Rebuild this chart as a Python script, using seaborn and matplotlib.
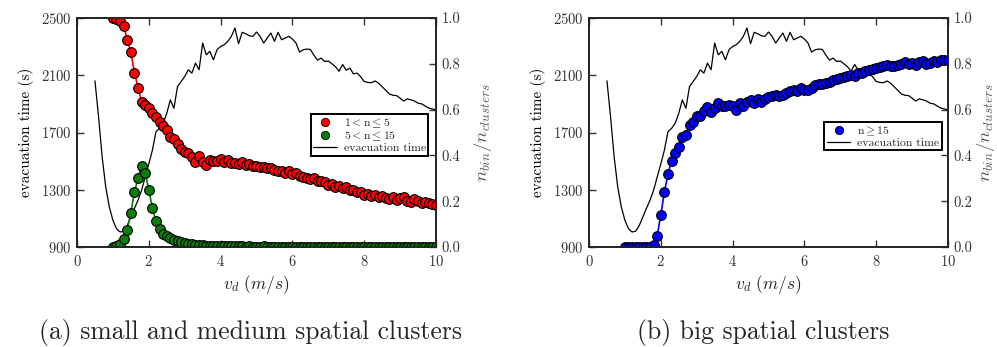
import numpy as np
import pandas as pd
import matplotlib
matplotlib.use("Agg")
import matplotlib.pyplot as plt
import seaborn as sns
from matplotlib.lines import Line2D

# ---------------- data ----------------
vd_bins = np.round(np.linspace(1.0, 10.0, 91), 1)
vd_evac = np.round(np.linspace(0.5, 10.0, 96), 1)

small = [1.00, 0.997, 0.985, 0.966, 0.905, 0.85, 0.762, 0.696, 0.635, 0.62,
         0.606, 0.584, 0.566, 0.545, 0.528, 0.511, 0.479, 0.470, 0.450, 0.430,
         0.416, 0.409, 0.394, 0.372, 0.397, 0.372, 0.359, 0.380, 0.377, 0.375,
         0.385, 0.372, 0.380, 0.365, 0.368, 0.362, 0.370, 0.358, 0.362, 0.355,
         0.352, 0.348, 0.350, 0.345, 0.346, 0.338, 0.332, 0.333, 0.325, 0.330,
         0.318, 0.322, 0.310, 0.305, 0.300, 0.296, 0.300, 0.290, 0.288, 0.282,
         0.272, 0.276, 0.262, 0.265, 0.258, 0.262, 0.250, 0.248, 0.240, 0.238,
         0.228, 0.230, 0.222, 0.226, 0.220, 0.222, 0.216, 0.210, 0.218, 0.205,
         0.213, 0.220, 0.202, 0.196, 0.210, 0.200, 0.193, 0.198, 0.190, 0.188,
         0.182]

medium = [0.0, 0.005, 0.015, 0.035, 0.075, 0.15, 0.24, 0.30, 0.355, 0.325,
          0.25, 0.17, 0.112, 0.077, 0.058, 0.047, 0.040, 0.032, 0.026, 0.021,
          0.017, 0.014, 0.011, 0.009, 0.008, 0.007, 0.006, 0.005, 0.005, 0.004,
          0.004, 0.004, 0.003, 0.003, 0.003, 0.003, 0.003, 0.002, 0.003, 0.002,
          0.002, 0.002, 0.003, 0.002, 0.002, 0.002, 0.002, 0.002, 0.002, 0.002,
          0.002, 0.002, 0.001, 0.002, 0.002, 0.001, 0.002, 0.001, 0.001, 0.002,
          0.001, 0.001, 0.001, 0.001, 0.002, 0.001, 0.001, 0.001, 0.001, 0.001,
          0.001, 0.001, 0.001, 0.001, 0.001, 0.001, 0.001, 0.001, 0.001, 0.001,
          0.001, 0.001, 0.001, 0.001, 0.001, 0.001, 0.001, 0.001, 0.001, 0.001,
          0.001]

big = [0.0, 0.0, 0.0, 0.0, 0.0, 0.0, 0.0, 0.0, 0.007, 0.05,
       0.14, 0.24, 0.32, 0.377, 0.41, 0.435, 0.48, 0.49, 0.533, 0.547,
       0.57, 0.572, 0.596, 0.61, 0.59, 0.606, 0.63, 0.616, 0.616, 0.618,
       0.616, 0.60, 0.628, 0.616, 0.635, 0.642, 0.628, 0.647, 0.635, 0.645,
       0.654, 0.66, 0.664, 0.66, 0.664, 0.672, 0.683, 0.686, 0.683, 0.693,
       0.686, 0.684, 0.695, 0.708, 0.712, 0.713, 0.716, 0.722, 0.730, 0.733,
       0.737, 0.742, 0.748, 0.750, 0.745, 0.760, 0.762, 0.768, 0.772, 0.778,
       0.782, 0.788, 0.790, 0.796, 0.790, 0.792, 0.795, 0.798, 0.806, 0.800,
       0.802, 0.796, 0.808, 0.812, 0.800, 0.805, 0.812, 0.810, 0.815, 0.818,
       0.815]

evac_time = [2061, 1811, 1531, 1320, 1180, 1087, 1028, 1005, 1010, 1050,
             1110, 1170, 1227, 1297, 1390, 1480, 1577, 1706, 1729, 1764,
             1834, 1928, 1869, 2021, 2056, 2091, 2138, 2115, 2185, 2138,
             2325, 2243, 2267, 2208, 2278, 2301, 2313, 2337, 2372, 2430,
             2320, 2400, 2390, 2376, 2372, 2402, 2372, 2325, 2360, 2395,
             2337, 2400, 2348, 2360, 2372, 2353, 2325, 2262, 2278, 2283,
             2280, 2240, 2205, 2220, 2196, 2200, 2180, 2160, 2128, 2175,
             2135, 2150, 2110, 2115, 2090, 2056, 2050, 2048, 2060, 2045,
             2020, 1995, 1970, 1960, 1958, 1940, 1920, 1935, 1928, 1920,
             1905, 1900, 1885, 1870, 1865, 1857]

evac_ticks = [900, 1300, 1700, 2100, 2500]
ratio_ticks = [0.0, 0.2, 0.4, 0.6, 0.8, 1.0]
x_ticks = [0, 2, 4, 6, 8, 10]

df_bins = pd.DataFrame({"vd": vd_bins, "small": small, "medium": medium, "big": big})
df_evac = pd.DataFrame({"vd": vd_evac, "evac": evac_time})

# ---------------- style ----------------
sns.set_style("ticks")
plt.rcParams["font.family"] = ["cmr10", "DejaVu Serif"]
plt.rcParams["mathtext.fontset"] = "cm"
plt.rcParams["axes.formatter.use_mathtext"] = True
plt.rcParams["axes.unicode_minus"] = False

tick_col = "#333333"
fig = plt.figure(figsize=(9.97, 3.47), dpi=100)
W, H = 997, 347

def make_axes(left_px):
    return fig.add_axes([left_px / W, 1 - 247 / H, 359 / W, 229 / H])

def style(ax, ax2, rpad):
    ax.set_xlim(0, 10)
    ax.set_ylim(900, 2500)
    ax.set_xticks(x_ticks)
    ax.set_yticks(evac_ticks)
    ax2.set_ylim(0, 1)
    ax2.set_yticks(ratio_ticks)
    ax2.set_yticklabels([f"{t:.1f}" for t in ratio_ticks])
    for a in (ax, ax2):
        for s in a.spines.values():
            s.set_color("#222222")
            s.set_linewidth(1.2)
            s.set_visible(True)
    ax.tick_params(axis="x", direction="in", top=True, bottom=True, length=5,
                   width=1, labelsize=10.5, colors=tick_col, pad=5)
    ax.tick_params(axis="y", direction="in", left=True, right=False, length=5,
                   width=1, labelsize=10.5, colors=tick_col, pad=4)
    ax2.tick_params(axis="y", direction="in", right=True, left=False, length=5,
                    width=1, labelsize=10.5, colors=tick_col, pad=4)
    ax.set_xlabel(r"$v_d\ (m/s)$", fontsize=12.5, color="#222222", labelpad=3)
    ax.set_ylabel("evacuation time (s)", fontsize=11, color="black", labelpad=5)
    ax2.set_ylabel(r"$n_{bin}/n_{clusters}$", fontsize=13.5, color="#555555",
                   labelpad=rpad)

mk = dict(marker="o", markersize=7, markeredgecolor="black", markeredgewidth=0.8)

def legend(ax, handles, labels, anchor):
    lg = ax.legend(handles, labels, loc="upper right", bbox_to_anchor=anchor,
                   fontsize=8.5, frameon=True, fancybox=False, edgecolor="black",
                   framealpha=1, borderpad=0.2, labelspacing=0.0, handlelength=2.0,
                   handletextpad=0.6, borderaxespad=0)
    lg.get_frame().set_linewidth(1.4)
    return lg

# ---- panel (a) ----
axa = make_axes(77)
axa2 = axa.twinx()
sns.lineplot(data=df_evac, x="vd", y="evac", ax=axa, color="black", linewidth=0.9)
sns.lineplot(data=df_bins, x="vd", y="small", ax=axa2, color="red", linewidth=1.2,
             markerfacecolor="red", **mk)
sns.lineplot(data=df_bins, x="vd", y="medium", ax=axa2, color="green", linewidth=1.2,
             markerfacecolor="#0a7d0a", **mk)
style(axa, axa2, 8)
axa.set_zorder(axa2.get_zorder() - 1)
axa2.patch.set_visible(False)

handles_a = [
    Line2D([], [], linestyle="none", marker="o", markersize=6, markerfacecolor="red",
           markeredgecolor="black", markeredgewidth=0.6),
    Line2D([], [], linestyle="none", marker="o", markersize=6, markerfacecolor="#0a7d0a",
           markeredgecolor="black", markeredgewidth=0.6),
    Line2D([], [], color="black", linewidth=0.9),
]
labels_a = [r"$1 < \mathrm{n} \leq 5$", r"$5 < \mathrm{n} \leq 15$", "evacuation time"]
legend(axa2, handles_a, labels_a, (0.978, 0.581))

# ---- panel (b) ----
axb = make_axes(589)
axb2 = axb.twinx()
sns.lineplot(data=df_evac, x="vd", y="evac", ax=axb, color="black", linewidth=0.9)
sns.lineplot(data=df_bins, x="vd", y="big", ax=axb2, color="blue", linewidth=1.2,
             markerfacecolor="blue", **mk)
style(axb, axb2, 2)
axb.set_zorder(axb2.get_zorder() - 1)
axb2.patch.set_visible(False)

handles_b = [
    Line2D([], [], linestyle="none", marker="o", markersize=6, markerfacecolor="blue",
           markeredgecolor="black", markeredgewidth=0.6),
    Line2D([], [], color="black", linewidth=0.9),
]
labels_b = [r"$\mathrm{n} \geq 15$", "evacuation time"]
legend(axb2, handles_b, labels_b, (0.983, 0.546))

# ---- captions ----
fig.text(250 / W, 1 - 339 / H, "(a) small and medium spatial clusters",
         ha="center", va="baseline", fontsize=18.5)
fig.text(763 / W, 1 - 339 / H, "(b) big spatial clusters",
         ha="center", va="baseline", fontsize=18.5)

fig.savefig("out.png", dpi=100)
